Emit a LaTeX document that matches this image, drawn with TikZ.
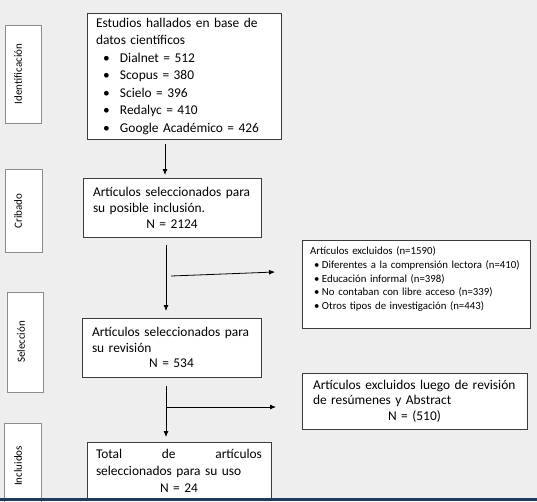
\documentclass[tikz,border=0pt]{standalone}
\usepackage{fontspec}
\setmainfont{Carlito}
\usetikzlibrary{arrows.meta,calc}
\definecolor{bg}{HTML}{EEEEEE}
\definecolor{barblue}{HTML}{1F3A5F}
\definecolor{mainline}{HTML}{3C3C3C}
\definecolor{sideline}{HTML}{8C8C8C}
\newcommand\bitemL[1]{\makebox[24pt][l]{\hspace{7pt}\textbullet}#1}
\newcommand\bitemS[1]{\mbox{\makebox[12pt][l]{\hspace{4pt}\textbullet}#1}}
\begin{document}
\begin{tikzpicture}[x=1pt,y=-1pt,
 mainbox/.style={draw=mainline, line width=0.8pt, fill=white, inner ysep=0pt, outer sep=0pt, align=left},
 sidebox/.style={draw=sideline, line width=0.8pt, fill=white, inner sep=0pt, outer sep=0pt},
 sidetext/.style={rotate=90, inner sep=0pt, font=\fontsize{11}{12}\selectfont},
 arr/.style={line width=0.8pt, -{Latex[length=6pt,width=5pt]}},
]
\useasboundingbox (0,0) rectangle (537,501);
\fill[bg] (0,0) rectangle (537,501);

% side boxes
\node[sidebox, minimum width=36pt, minimum height=98pt] (s1) at (23,74) {};
\node[sidetext] (s1t) at (18,74) {Identificación};
\node[sidebox, minimum width=37pt, minimum height=83pt] (s2) at (23.5,210.5) {};
\node[sidetext] (s2t) at (18,211) {Cribado};
\node[sidebox, minimum width=36pt, minimum height=100pt] (s3) at (25,342) {};
\node[sidetext] (s3t) at (21,342) {Selección};
\node[sidebox, minimum width=37pt, minimum height=84pt] (s4) at (22.5,465) {};
\node[sidetext] (s4t) at (18,466) {Incluidos};

% main boxes
\node[mainbox, inner xsep=9pt, text width=176pt, minimum width=194pt, minimum height=126pt,
      font=\fontsize{13.4}{17.5}\selectfont] (b1) at (184,76)
 {Estudios hallados en base de\\datos científicos\\
  \bitemL{Dialnet = 512}\\
  \bitemL{Scopus = 380}\\
  \bitemL{Scielo = 396}\\
  \bitemL{Redalyc = 410}\\
  \bitemL{Google Académico = 426}};

\node[mainbox, inner xsep=10pt, text width=158pt, minimum width=178pt, minimum height=59pt,
      font=\fontsize{13.4}{16}\selectfont] (b2) at (172,207.5)
 {Artículos seleccionados para\\su posible inclusión.\\\makebox[158pt][c]{N = 2124}};

\node[mainbox, inner xsep=10pt, text width=159pt, minimum width=179pt, minimum height=59pt,
      font=\fontsize{13.4}{15.8}\selectfont] (b3) at (171.5,347.5)
 {Artículos seleccionados para\\su revisión\\\makebox[159pt][c]{N = 534}};

\node[mainbox, inner xsep=9pt, text width=166pt, minimum width=184pt, minimum height=58pt,
      font=\fontsize{13.4}{17}\selectfont] (b4) at (179,471)
 {\makebox[166pt][s]{Total\hfill de\hfill artículos}\\seleccionados para su uso\\\makebox[166pt][c]{N = 24}};

\node[mainbox, inner xsep=8pt, text width=212pt, minimum width=228pt, minimum height=88pt,
      font=\fontsize{10.8}{13.6}\selectfont] (e1) at (416,284)
 {Artículos excluidos (n=1590)\\
  \bitemS{Diferentes a la comprensión lectora (n=410)}\\
  \bitemS{Educación informal (n=398)}\\
  \bitemS{No contaban con libre acceso (n=339)}\\
  \bitemS{Otros tipos de investigación (n=443)}\\[-2pt]\mbox{}};

\node[mainbox, inner xsep=11pt, text width=203pt, minimum width=225pt, minimum height=56pt,
      font=\fontsize{13.4}{15.7}\selectfont] (e2) at (414.5,401)
 {Artículos excluidos luego de revisión\\de resúmenes y Abstract\\\makebox[203pt][c]{N = (510)}};

% connectors
\coordinate (c1) at (165,0);
\coordinate (c2) at (166,0);
\draw[arr, shorten <=5pt, shorten >=3pt] (c1 |- b1.south) -- (c1 |- b2.north);
\draw[arr, shorten <=8pt, shorten >=7pt] (c2 |- b2.south) -- (c2 |- b3.north);
\coordinate (h1s) at (171,276);
\coordinate (h1e) at (275,272);
\draw[arr] (h1s) -- (h1e);
\draw[arr, shorten <=9pt, shorten >=5pt] (c2 |- b3.south) -- (c2 |- b4.north);
\coordinate (j3) at (166,407);
\draw[arr, shorten >=26pt] (j3) -- (j3 -| e2.west);

\fill[barblue] (0,498) rectangle (537,501);
\end{tikzpicture}
\end{document}
